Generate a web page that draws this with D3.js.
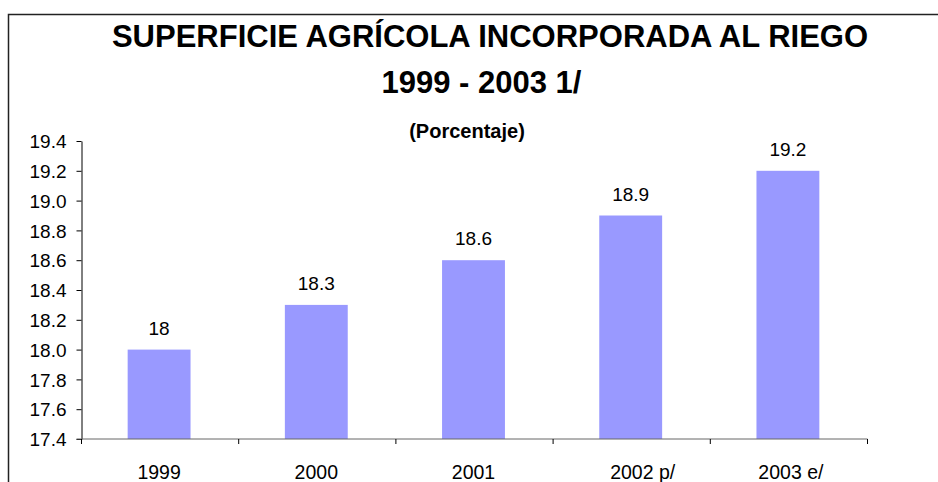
<!DOCTYPE html>
<html>
<head>
<meta charset="utf-8">
<script src="https://cdn.jsdelivr.net/npm/d3@7"></script>
<style>
  body { margin: 0; background: #fff; }
  svg text { font-family: "Liberation Sans", Arial, sans-serif; fill: #000; }
</style>
</head>
<body>
<div id="chart"></div>
<script>
const categories = ["1999", "2000", "2001", "2002 p/", "2003 e/"];
const values = [18, 18.3, 18.6, 18.9, 19.2];
const valueLabels = ["18", "18.3", "18.6", "18.9", "19.2"];
const yTicks = [17.4, 17.6, 17.8, 18.0, 18.2, 18.4, 18.6, 18.8, 19.0, 19.2, 19.4];

const width = 938,
    height = 482;
const plot = { left: 81.5, right: 867.5, top: 141, bottom: 439 };

const svg = d3.select("#chart")
    .append("svg")
    .attr("width", width)
    .attr("height", height);

// outer frame, runs off the right and bottom edges
svg.append("rect")
    .attr("x", 8.5)
    .attr("y", 14.5)
    .attr("width", 1000)
    .attr("height", 1000)
    .attr("fill", "none")
    .attr("stroke", "#222")
    .attr("stroke-width", 1.5);

svg.append("text")
    .attr("x", 490).attr("y", 47)
    .attr("text-anchor", "middle")
    .style("font-size", "31px").style("font-weight", "bold")
    .text("SUPERFICIE AGRÍCOLA INCORPORADA AL RIEGO");

svg.append("text")
    .attr("x", 481.5).attr("y", 93)
    .attr("text-anchor", "middle")
    .style("font-size", "31px").style("font-weight", "bold")
    .text("1999 - 2003 1/");

svg.append("text")
    .attr("x", 467).attr("y", 137.5)
    .attr("text-anchor", "middle")
    .style("font-size", "20px").style("font-weight", "bold")
    .text("(Porcentaje)");

const x = d3.scaleBand()
    .domain(categories)
    .range([plot.left, plot.right])
    .paddingInner(0.6)
    .paddingOuter(0.3);

const y = d3.scaleLinear()
    .domain([17.4, 19.4])
    .range([plot.bottom, plot.top]);

// bars
svg.selectAll("rect.bar")
    .data(values)
    .enter()
    .append("rect")
    .classed("bar", true)
    .attr("x", function(d, i) { return x(categories[i]) - 1; })
    .attr("y", function(d) { return y(d); })
    .attr("width", x.bandwidth())
    .attr("height", function(d) { return y(17.4) - y(d); })
    .attr("fill", "#9999ff");

// value labels
svg.selectAll("text.val")
    .data(values)
    .enter()
    .append("text")
    .classed("val", true)
    .attr("x", function(d, i) { return x(categories[i]) - 1 + x.bandwidth() / 2; })
    .attr("y", function(d) { return y(d) - 15; })
    .attr("text-anchor", "middle")
    .style("font-size", "19px")
    .text(function(d, i) { return valueLabels[i]; });

// y axis
const yAxis = svg.append("g")
    .attr("transform", "translate(" + plot.left + ",0)")
    .call(d3.axisLeft(y).tickValues(yTicks).tickFormat(d3.format(".1f")).tickSize(5).tickSizeOuter(0));
yAxis.selectAll("text")
    .style("font-size", "19px")
    .attr("x", -15)
    .attr("dy", "0.35em");
yAxis.selectAll("line, path").attr("stroke", "#000");

// x axis: ticks at category boundaries
const xLine = svg.append("g")
    .attr("transform", "translate(0," + plot.bottom + ")");
xLine.append("line")
    .attr("x1", plot.left - 5).attr("x2", plot.right)
    .attr("stroke", "#666");
const bounds = d3.range(categories.length + 1).map(function(i) { return plot.left + i * (plot.right - plot.left) / categories.length; });
xLine.selectAll("line.tk")
    .data(bounds)
    .enter()
    .append("line")
    .classed("tk", true)
    .attr("x1", function(d) { return d; })
    .attr("x2", function(d) { return d; })
    .attr("y1", 0).attr("y2", 5)
    .attr("stroke", "#000");
// the "2002 p/" label sits a little right of its bar in the original
xLine.selectAll("text")
    .data(categories)
    .enter()
    .append("text")
    .attr("x", function(d) { return x(d) - 1 + x.bandwidth() / 2; })
    .attr("dx", function(d, i) { return i === 3 ? 12 : (i === 4 ? 3 : 0); })
    .attr("y", 40)
    .attr("text-anchor", "middle")
    .style("font-size", "19.5px")
    .text(function(d) { return d; });
</script>
</body>
</html>
